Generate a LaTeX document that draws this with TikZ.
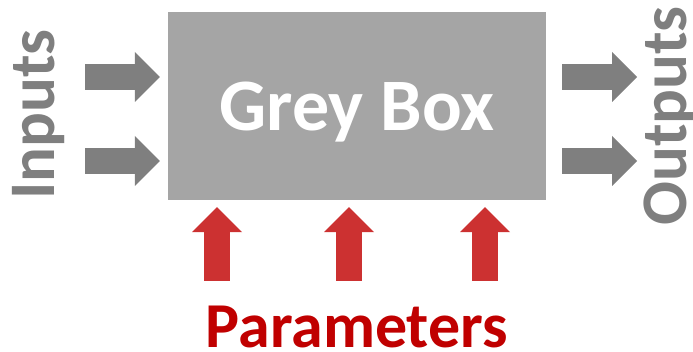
\documentclass[tikz,border=0pt]{standalone}
\usepackage{fontspec}
\setmainfont{Carlito}
\usepackage{xcolor}
\usepackage{tikz}
\usetikzlibrary{arrows.meta,positioning,calc}
\definecolor{boxgrey}{HTML}{A5A5A5}
\definecolor{flowgrey}{HTML}{7F7F7F}
\definecolor{paramred}{HTML}{CC3131}
\definecolor{labelred}{HTML}{C00000}
\tikzset{
  greybox/.style={
    rectangle, fill=boxgrey, draw=none,
    minimum width=378pt, minimum height=188pt,
    font=\fontsize{74}{80}\selectfont\bfseries, text=white,
    text depth=0pt, inner sep=0pt
  },
  blockarrow/.style={
    -{Triangle[length=25pt, width=50pt, line width=0pt]},
    line width=26pt, color=#1
  },
  blockarrow/.default=flowgrey,
  sidelabel/.style={
    font=\fontsize{65}{70}\selectfont\bfseries, text=#1,
    inner sep=0pt
  },
  sidelabel/.default=flowgrey,
}

\begin{document}
\begin{tikzpicture}[x=1pt, y=-1pt]
  \useasboundingbox (0,0) rectangle (693,352);
  \node[greybox] (box) at (357,106) {Grey Box};
  % inputs
  \coordinate (in1) at (85,77);
  \coordinate (in2) at (85,161);
  \draw[blockarrow, shorten >=8pt] (in1) -- (in1 -| box.west);
  \draw[blockarrow, shorten >=8pt] (in2) -- (in2 -| box.west);
  \node[sidelabel, rotate=90, anchor=base] (inputs) at (54,114.5) {Inputs};
  % outputs
  \coordinate (out1) at (637,77);
  \coordinate (out2) at (637,161);
  \draw[blockarrow, shorten <=16pt] (out1 -| box.east) -- (out1);
  \draw[blockarrow, shorten <=16pt] (out2 -| box.east) -- (out2);
  \node[sidelabel, rotate=90, anchor=base] (outputs) at (686,116) {Outputs};
  % parameters
  \foreach \px [count=\i] in {217,349,485} {
    \coordinate (par\i) at (\px,281);
    \draw[blockarrow=paramred, shorten >=7pt] (par\i) -- (par\i |- box.south);
  }
  \node[sidelabel=labelred, font=\fontsize{64}{70}\selectfont\bfseries,
    anchor=base] (params) at (357,348) {Parameters};
\end{tikzpicture}
\end{document}
